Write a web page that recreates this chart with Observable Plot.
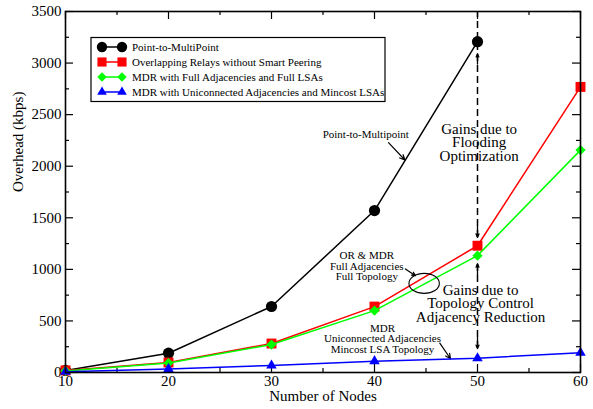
<!DOCTYPE html>
<html><head><meta charset="utf-8">
<script src="https://cdn.jsdelivr.net/npm/d3@7"></script>
<script src="https://cdn.jsdelivr.net/npm/@observablehq/plot@0.6"></script>
<style>
body{margin:0;background:#fff;}
#chart{position:relative;width:593px;height:409px;}
</style>
</head><body><div id="chart"></div>
<script>
// ---- data ----
const nodes = [10, 20, 30, 40, 50, 60];
const seriesNames = [
  "Point-to-MultiPoint",
  "Overlapping Relays without Smart Peering",
  "MDR with Full Adjacencies and Full LSAs",
  "MDR with Uniconnected Adjacencies and Mincost LSAs"
];
const seriesColors = ["#000000", "#ff0000", "#00ff00", "#0000ff"];
const seriesSymbols = ["circle", "square", "diamond2", "triangle"];
const seriesRadius = [5.6, 5.6, 4.6, 3.9];
const p2m      = [20, 187, 640, 1570, 3207];
const orRelay  = [20, 97, 281, 639, 1229, 2769];
const mdrFull  = [15, 92, 271, 600, 1133, 2156];
const mdrMin   = [8, 35, 68, 110, 138, 192];
const seriesValues = [p2m, orRelay, mdrFull, mdrMin];

const xTicks = [10, 20, 30, 40, 50, 60];
const xMinorTicks = [15, 25, 35, 45, 55];
const yTicks = [0, 500, 1000, 1500, 2000, 2500, 3000, 3500];
const yMinorTicks = [250, 750, 1250, 1750, 2250, 2750, 3250];
const xLabel = "Number of Nodes";
const yLabel = "Overhead (kbps)";

// annotations (data coordinates)
const noteTexts = [
  {x: 39.15, y: 2310, text: "Point-to-Multipoint", size: 11, lh: 1},
  {x: 50.16, y: 2223, text: "Gains due to\nFlooding\nOptimization", size: 15, lh: 0.88},
  {x: 39.25, y: 1030, text: "OR & MDR\nFull Adjacencies\nFull Topology", size: 11, lh: 0.98},
  {x: 50.3, y: 662, text: "Gains due to\nTopology Control\nAdjacency Reduction", size: 15, lh: 0.88},
  {x: 40.78, y: 326, text: "MDR\nUniconnected Adjacencies\nMincost LSA Topology", size: 11, lh: 0.95}
];
const noteArrows = [
  {x1: 41.36, y1: 2229, x2: 42.95, y2: 2060},
  {x1: 43.0, y1: 1004, x2: 43.98, y2: 939},
  {x1: 46.34, y1: 284, x2: 47.38, y2: 133}
];
const dashedRules = [
  {x: 50, y1: 1310, y2: 3500},
  {x: 50, y1: 232, y2: 1055}
];
const gainHeads = [
  {x: 50, from: 2990, to: 3091},
  {x: 50, from: 1420, to: 1310},
  {x: 50, from: 945, to: 1055},
  {x: 50, from: 340, to: 232}
];
const ellipseNote = {x: 44.87, y: 859, rx: 15.2, ry: 10};

// ---- table ----
const rows = [];
seriesValues.forEach((vals, s) => vals.forEach((v, i) => rows.push({series: seriesNames[s], x: nodes[i], y: v})));

const W = 593, H = 409, mL = 65, mR = 13, mT = 11, mB = 37;
const innerW = W - mL - mR, innerH = H - mT - mB;

const seriesMarks = [];
seriesNames.forEach((name, s) => {
  const d = rows.filter(r => r.series === name);
  seriesMarks.push(Plot.line(d, {x: "x", y: "y", stroke: seriesColors[s], strokeWidth: 1.5}));
  seriesMarks.push(Plot.dot(d, {x: "x", y: "y", fill: seriesColors[s], stroke: "none", symbol: seriesSymbols[s], r: seriesRadius[s]}));
});

const chart = Plot.plot({
  width: W, height: H,
  marginLeft: mL, marginRight: mR, marginTop: mT, marginBottom: mB,
  x: {domain: [10, 60]},
  y: {domain: [0, 3500]},
  style: {fontFamily: '"Liberation Serif", "Times New Roman", serif', fontSize: "15px", color: "black", background: "white"},
  marks: [
    // inward ticks, all four sides
    Plot.tickY(yTicks, {y: d => d, insetRight: innerW - 8, stroke: "black", strokeWidth: 1.2}),
    Plot.tickY(yMinorTicks, {y: d => d, insetRight: innerW - 4, stroke: "black", strokeWidth: 1.2}),
    Plot.tickY(yTicks, {y: d => d, insetLeft: innerW - 8, stroke: "black", strokeWidth: 1.2}),
    Plot.tickY(yMinorTicks, {y: d => d, insetLeft: innerW - 4, stroke: "black", strokeWidth: 1.2}),
    Plot.tickX(xTicks, {x: d => d, insetTop: innerH - 8, stroke: "black", strokeWidth: 1.2}),
    Plot.tickX(xMinorTicks, {x: d => d, insetTop: innerH - 4, stroke: "black", strokeWidth: 1.2}),
    Plot.tickX(xTicks, {x: d => d, insetBottom: innerH - 8, stroke: "black", strokeWidth: 1.2}),
    Plot.tickX(xMinorTicks, {x: d => d, insetBottom: innerH - 4, stroke: "black", strokeWidth: 1.2}),
    Plot.axisY({ticks: yTicks, tickSize: 0, tickPadding: 4, tickFormat: d => String(d), label: null, fontSize: 15}),
    Plot.axisX({ticks: xTicks, tickSize: 0, tickPadding: 3, tickFormat: d => String(d), label: null, fontSize: 15}),
    Plot.text([xLabel], {text: d => d, frameAnchor: "bottom", dy: 28, fontSize: 15}),
    Plot.text([yLabel], {text: d => d, frameAnchor: "left", rotate: -90, dx: -47, fontSize: 15}),
    // annotations
    Plot.ruleX(dashedRules, {x: "x", y1: "y1", y2: "y2", stroke: "black", strokeWidth: 1.5, strokeDasharray: "7,4"}),
    Plot.arrow(gainHeads, {x1: "x", y1: "from", x2: "x", y2: "to", stroke: "black", strokeWidth: 1.3, headLength: 8, headAngle: 45}),
    Plot.arrow(noteArrows, {x1: "x1", y1: "y1", x2: "x2", y2: "y2", stroke: "black", strokeWidth: 1.2, headLength: 7, headAngle: 50}),
    ...noteTexts.map(n => Plot.text([n], {x: "x", y: "y", text: "text", fontSize: n.size, lineHeight: n.lh, fill: "black"})),
    ...seriesMarks,
    Plot.frame({stroke: "black", strokeWidth: 1.6})
  ]
});

// ellipse annotation
const sx = chart.scale("x"), sy = chart.scale("y");
const svg = d3.select(chart);
svg.append("ellipse")
  .attr("cx", sx.apply(ellipseNote.x)).attr("cy", sy.apply(ellipseNote.y))
  .attr("rx", ellipseNote.rx).attr("ry", ellipseNote.ry)
  .attr("fill", "none").attr("stroke", "black").attr("stroke-width", 1.1);

// legend (inside plot, upper left)
const lg = svg.append("g")
  .attr("font-family", '"Liberation Serif", "Times New Roman", serif')
  .attr("font-size", 11).attr("text-anchor", "start");
lg.append("rect").attr("x", 91).attr("y", 37.5).attr("width", 294).attr("height", 64)
  .attr("fill", "white").attr("stroke", "black").attr("stroke-width", 1.2);
const symMap = {circle: d3.symbolCircle, square: d3.symbolSquare, diamond2: d3.symbolDiamond2, triangle: d3.symbolTriangle};
seriesNames.forEach((name, s) => {
  const y = 47 + s * 15;
  lg.append("line").attr("x1", 102).attr("x2", 122).attr("y1", y).attr("y2", y)
    .attr("stroke", seriesColors[s]).attr("stroke-width", 1.5);
  const size = Math.PI * seriesRadius[s] * seriesRadius[s] * 0.85;
  [102, 122].forEach(cx => {
    lg.append("path").attr("d", d3.symbol(symMap[seriesSymbols[s]], size)())
      .attr("transform", `translate(${cx},${y})`).attr("fill", seriesColors[s]);
  });
  lg.append("text").attr("x", 132).attr("y", y).attr("dy", "0.35em")
    .attr("text-anchor", "start").attr("fill", "black").text(name);
});

document.getElementById("chart").appendChild(chart);
</script>
</body></html>
